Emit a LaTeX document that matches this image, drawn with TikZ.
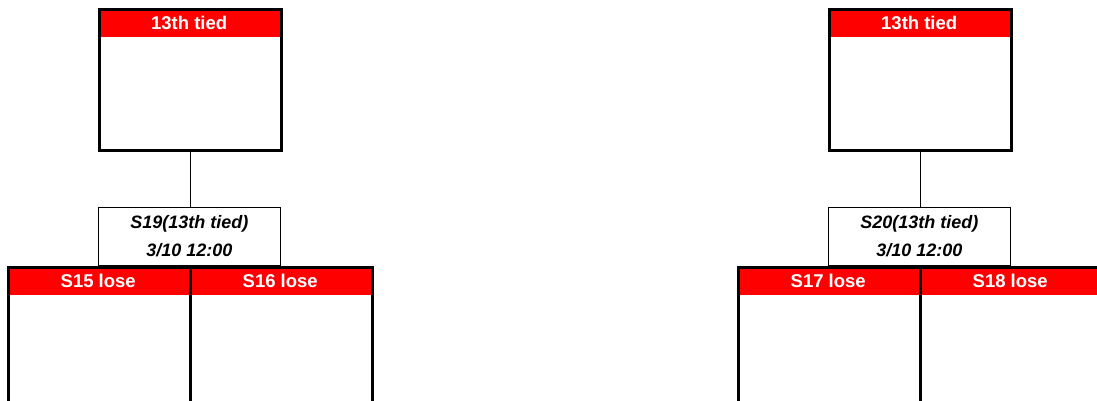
\documentclass[tikz,border=0pt]{standalone}
\usepackage{fontspec}
\setmainfont{Liberation Sans}
\begin{document}
\begin{tikzpicture}[x=1pt,y=-1pt,
  hdr/.style={fill=red, text=white, font=\bfseries\fontsize{18.5}{18.5}\selectfont,
    minimum width=182pt, minimum height=29pt, inner sep=0pt, anchor=north west},
  box/.style={draw, line width=2.6pt, minimum width=182pt, inner sep=0pt, anchor=north west},
  match/.style={draw, line width=0.8pt, fill=white, align=center, inner sep=0pt,
    font=\bfseries\itshape\fontsize{18}{28}\selectfont,
    minimum width=182pt, minimum height=58pt, anchor=north west},
  link/.style={draw, line width=0.8pt}]
\useasboundingbox (0,0) rectangle (1097,401);
\clip (0,0) rectangle (1097,401);
% left tree
\node[hdr] (h1) at (98,8) {13th tied};
\node[box, minimum height=141pt] (b1) at (98,8) {};
\node[match] (m1) at (98,207) {S19(13th tied)\\3/10 12:00};
\node[hdr] (h15) at (7,266) {S15 lose};
\node[box, minimum height=145pt] (b15) at (7,266) {};
\node[hdr] (h16) at (189,266) {S16 lose};
\node[box, minimum height=145pt] (b16) at (189,266) {};
\draw[link] (b1.south) -- (b1.south |- m1.north);
% right tree
\node[hdr] (h2) at (828,8) {13th tied};
\node[box, minimum height=141pt] (b2) at (828,8) {};
\node[match] (m2) at (828,207) {S20(13th tied)\\3/10 12:00};
\node[hdr] (h17) at (737,266) {S17 lose};
\node[box, minimum height=145pt] (b17) at (737,266) {};
\node[hdr] (h18) at (919,266) {S18 lose};
\node[box, minimum height=145pt] (b18) at (919,266) {};
\draw[link] (b2.south) -- (b2.south |- m2.north);
\end{tikzpicture}
\end{document}
